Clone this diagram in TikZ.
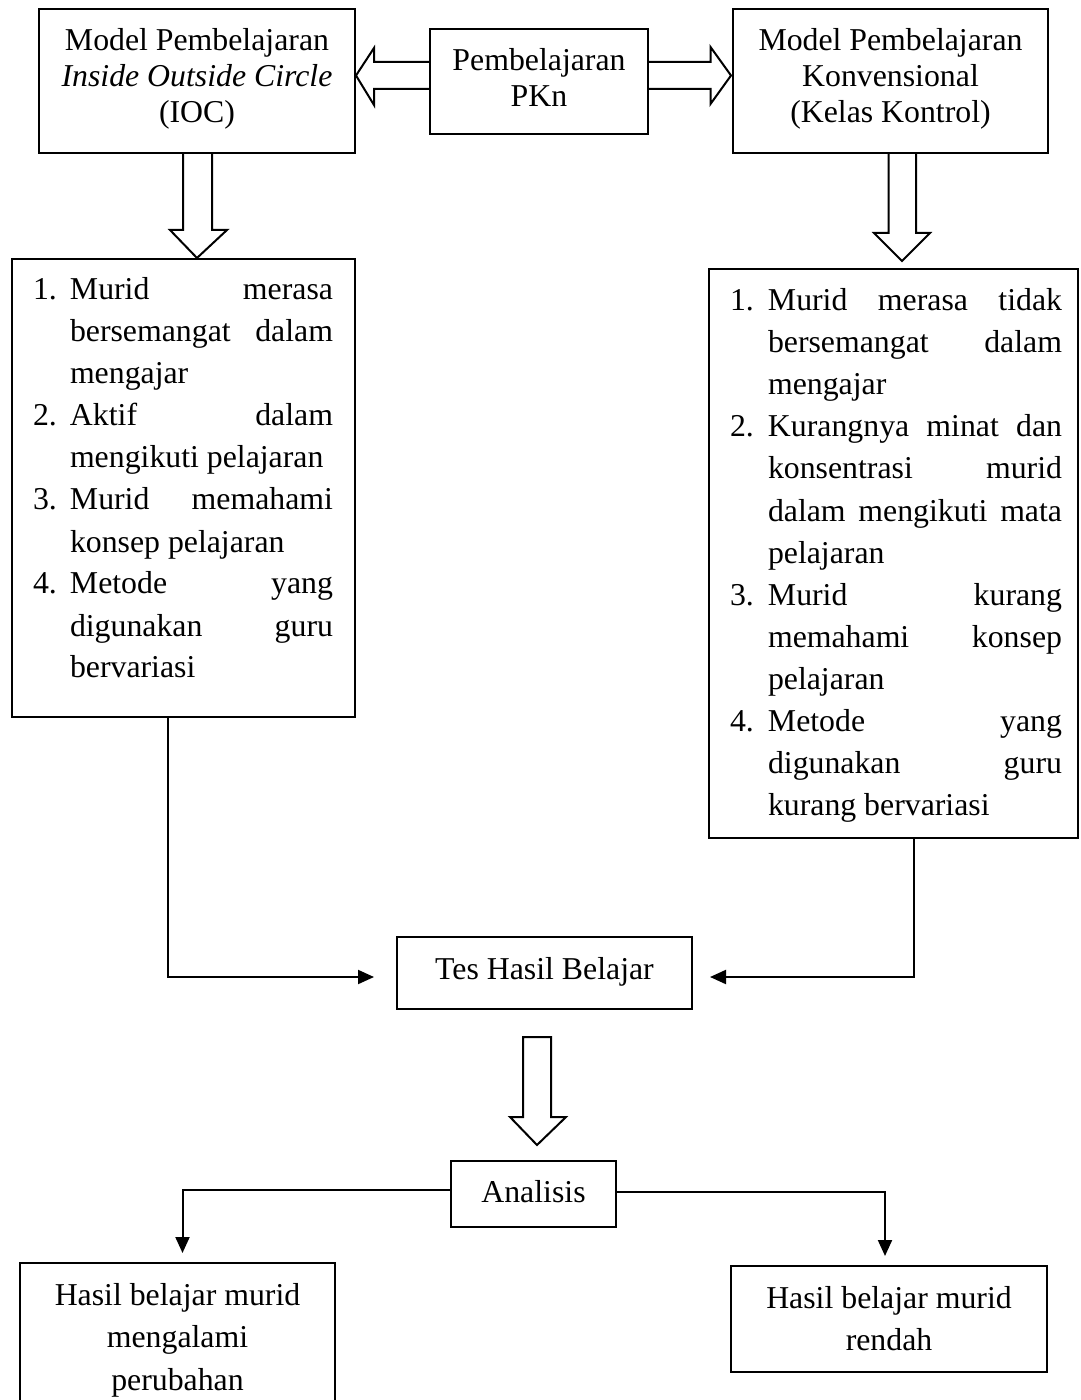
\documentclass[tikz,border=0pt]{standalone}
\usepackage{fontspec}
\setmainfont{Liberation Serif}
\usetikzlibrary{arrows.meta,calc}
\newcommand\jus[2]{\makebox[#1][s]{#2}}
\newcommand\lft[2]{\makebox[#1][l]{#2}}
% #1 width, #2 height, #3 top pad, #4 baselineskip, #5 lines
\newcommand\boxtext[5]{\parbox[c][#2][t]{#1}{\fontsize{15.9pt}{#4}\selectfont\vspace*{#3}\centering\strut #5\strut\par}}
\newcommand\listtext[5]{\parbox[c][#2][t]{#1}{\fontsize{15.9pt}{#4}\selectfont\vspace*{#3}\raggedright\strut #5\par}}
\tikzset{
  box/.style={draw, line width=1pt, inner sep=0pt, fill=white},
  conn/.style={line width=1pt, -{Triangle[length=8pt,width=7pt]}},
  hollow/.style={line width=1pt, line join=miter}
}
\begin{document}
\begin{tikzpicture}[x=0.5pt,y=-0.5pt]
\useasboundingbox (0,0) rectangle (1080,1400);
\fill[white] (0,0) rectangle (1080,1400);
\clip (0,0) rectangle (1080,1400);

% top row
\node[box] (l1) at (197,81) {\boxtext{158pt}{72pt}{8.4pt}{18pt}{Model Pembelajaran\\\textit{Inside Outside Circle}\\(IOC)}};
\node[box] (c) at (539,81.5) {\boxtext{109pt}{52.5pt}{8.25pt}{18pt}{Pembelajaran\\PKn}};
\node[box] (r1) at (890.5,81) {\boxtext{157.5pt}{72pt}{8.4pt}{18pt}{Model Pembelajaran\\Konvensional\\(Kelas Kontrol)}};

% lists
\node[box] (l2) at (183.5,488) {\listtext{171.5pt}{229pt}{5.8pt}{21pt}{%
\hspace*{10.5pt}\lft{18.5pt}{1.}\jus{131.5pt}{Murid merasa}\\
\hspace*{29pt}\jus{131.5pt}{bersemangat dalam}\\
\hspace*{29pt}mengajar\\
\hspace*{10.5pt}\lft{18.5pt}{2.}\jus{131.5pt}{Aktif dalam}\\
\hspace*{29pt}mengikuti pelajaran\\
\hspace*{10.5pt}\lft{18.5pt}{3.}\jus{131.5pt}{Murid memahami}\\
\hspace*{29pt}konsep pelajaran\\
\hspace*{10.5pt}\lft{18.5pt}{4.}\jus{131.5pt}{Metode yang}\\
\hspace*{29pt}\jus{131.5pt}{digunakan guru}\\
\hspace*{29pt}bervariasi}};

\node[box] (r2) at (893.5,553.5) {\listtext{184.5pt}{284.5pt}{6.3pt}{21pt}{%
\hspace*{10.5pt}\lft{19pt}{1.}\jus{147pt}{Murid merasa tidak}\\
\hspace*{29.5pt}\jus{147pt}{bersemangat dalam}\\
\hspace*{29.5pt}mengajar\\
\hspace*{10.5pt}\lft{19pt}{2.}\jus{147pt}{Kurangnya minat dan}\\
\hspace*{29.5pt}\jus{147pt}{konsentrasi murid}\\
\hspace*{29.5pt}\jus{147pt}{dalam mengikuti mata}\\
\hspace*{29.5pt}pelajaran\\
\hspace*{10.5pt}\lft{19pt}{3.}\jus{147pt}{Murid kurang}\\
\hspace*{29.5pt}\jus{147pt}{memahami konsep}\\
\hspace*{29.5pt}pelajaran\\
\hspace*{10.5pt}\lft{19pt}{4.}\jus{147pt}{Metode yang}\\
\hspace*{29.5pt}\jus{147pt}{digunakan guru}\\
\hspace*{29.5pt}kurang bervariasi}};

% middle and bottom
\node[box] (tes) at (544.5,973) {\boxtext{147.5pt}{36pt}{9pt}{17.5pt}{Tes Hasil Belajar}};
\node[box] (an) at (533.5,1194) {\boxtext{82.5pt}{33pt}{8.25pt}{17.5pt}{Analisis}};
\node[box] (bl) at (177.5,1341.5) {\boxtext{157.5pt}{78.5pt}{6.3pt}{21.25pt}{Hasil belajar murid\\mengalami\\perubahan}};
\node[box] (br) at (889,1319) {\boxtext{158pt}{53pt}{6.5pt}{21pt}{Hasil belajar murid\\rendah}};

% hollow block arrows
\draw[hollow] ($(c.west)+(0,-19.5)$) -- (374,62) -- (374,48) -- ($(l1.east)+(0,-5.5)$) -- (374,105) -- (374,89) -- ($(c.west)+(0,7.5)$);
\draw[hollow] ($(c.east)+(0,-19.5)$) -- (710.5,62) -- (710.5,47) -- ($(r1.west)+(-1,-5.5)$) -- (710.5,104) -- (710.5,89) -- ($(c.east)+(0,7.5)$);
\draw[hollow] ($(l1.south)+(-14,0)$) -- (183,230) -- (170,230) -- (l1.south |- l2.north) -- (227,230) -- (212,230) -- ($(l1.south)+(15,0)$);
\draw[hollow] ($(r1.south)+(-2,0)$) -- (888.5,233) -- (874,233) -- (902,261) -- (930,233) -- (916,233) -- ($(r1.south)+(25.5,0)$);
\draw[hollow] (523,1037) -- (523,1117) -- (510,1117) -- (537,1145) -- (566,1117) -- (551,1117) -- (551,1037) -- cycle;

% connectors
\coordinate (xL) at (168,977);
\coordinate (tA) at (374,977);
\coordinate (xR) at (914,977);
\coordinate (tB) at (710,977);
\coordinate (dL) at (182.5,1253);
\coordinate (dR) at (885,1256);
\draw[conn] (l2.south -| xL) |- (tA);
\draw[conn] (r2.south -| xR) |- (tB);
\draw[conn] ([yshift=2pt]an.west) -| (dL);
\draw[conn] ([yshift=1pt]an.east) -| (dR);
\end{tikzpicture}
\end{document}
